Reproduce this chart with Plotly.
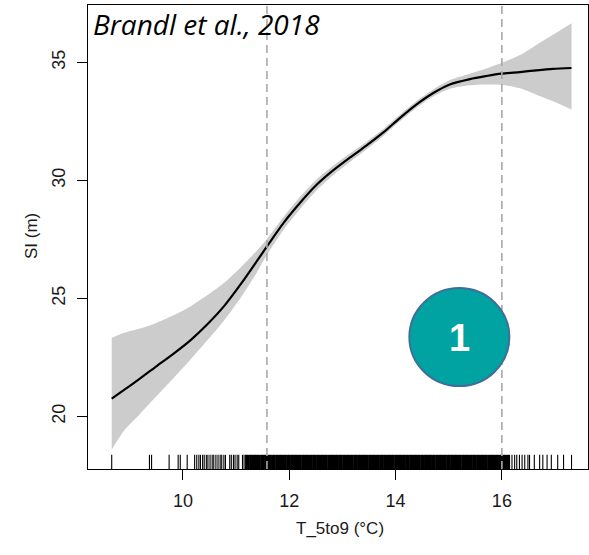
import plotly.graph_objects as go

# Smooth fit of site index against mean May-September temperature
temp = [8.66, 8.88, 9.19, 9.50, 9.82, 10.14, 10.45, 10.77, 11.08, 11.39, 11.58,
        11.89, 12.20, 12.51, 12.83, 13.14, 13.45, 13.77, 14.08, 14.39, 14.71,
        15.02, 15.40, 15.71, 15.99, 16.34, 16.65, 16.96, 17.31]
si_fit = [20.75, 21.10, 21.60, 22.12, 22.65, 23.22, 23.88, 24.66, 25.58, 26.58, 27.20,
          28.19, 29.04, 29.80, 30.43, 30.96, 31.47, 32.03, 32.64, 33.21, 33.70,
          34.06, 34.29, 34.42, 34.52, 34.59, 34.66, 34.72, 34.76]
si_upper = [23.32, 23.53, 23.72, 23.96, 24.28, 24.66, 25.12, 25.65, 26.30, 27.02, 27.52,
            28.45, 29.30, 30.03, 30.63, 31.14, 31.63, 32.18, 32.78, 33.35, 33.85,
            34.25, 34.52, 34.74, 34.97, 35.31, 35.74, 36.17, 36.66]
si_lower = [18.59, 19.36, 20.10, 20.85, 21.62, 22.40, 23.20, 24.05, 25.00, 26.10, 26.85,
            27.90, 28.78, 29.57, 30.23, 30.78, 31.31, 31.88, 32.50, 33.07, 33.55,
            33.88, 34.03, 34.06, 34.05, 33.90, 33.63, 33.35, 33.00]

# Observed plot temperatures (rug)
rug_sparse = [8.66, 9.37, 9.41, 9.74, 9.91, 9.95, 10.08, 10.22, 10.26, 10.30, 10.33,
              10.37, 10.40, 10.44, 10.47, 10.51, 10.55, 10.58, 10.62, 10.66, 10.70,
              10.73, 10.77, 10.80, 10.88, 10.91, 10.95, 10.98, 11.02, 11.05, 11.12,
              11.15, 11.18, 16.19, 16.24, 16.28, 16.33, 16.38, 16.43, 16.49, 16.52,
              16.61, 16.71, 16.77, 16.85, 16.93, 17.05, 17.16, 17.31]
rug_dense = [11.20, 11.23, 11.27, 11.30, 11.34, 11.37, 11.41, 11.44, 11.48, 11.51,
             11.55, 11.58, 11.62, 11.65, 11.69, 11.72, 11.76, 11.79, 11.83, 11.86,
             11.90, 11.93, 11.97, 12.00, 12.04, 12.07, 12.11, 12.14, 12.18, 12.21,
             12.25, 12.28, 12.32, 12.35, 12.39, 12.42, 12.46, 12.49, 12.53, 12.56,
             12.60, 12.63, 12.67, 12.70, 12.74, 12.77, 12.81, 12.84, 12.88, 12.91,
             12.95, 12.98, 13.02, 13.05, 13.09, 13.12, 13.16, 13.19, 13.23, 13.26,
             13.30, 13.33, 13.37, 13.40, 13.44, 13.47, 13.51, 13.54, 13.58, 13.61,
             13.65, 13.68, 13.72, 13.75, 13.79, 13.82, 13.86, 13.89, 13.93, 13.96,
             14.00, 14.03, 14.07, 14.10, 14.14, 14.17, 14.21, 14.24, 14.28, 14.31,
             14.35, 14.38, 14.42, 14.45, 14.49, 14.52, 14.56, 14.59, 14.63, 14.66,
             14.70, 14.73, 14.77, 14.80, 14.84, 14.87, 14.91, 14.94, 14.98, 15.01,
             15.05, 15.08, 15.12, 15.15, 15.19, 15.22, 15.26, 15.29, 15.33, 15.36,
             15.40, 15.43, 15.47, 15.50, 15.54, 15.57, 15.61, 15.64, 15.68, 15.71,
             15.75, 15.78, 15.82, 15.85, 15.89, 15.92, 15.96, 15.99, 16.03, 16.06,
             16.10, 16.13]

thresholds = [11.58, 16.0]
x_ticks = [10, 12, 14, 16]
y_ticks = [20, 25, 30, 35]

X_RANGE = [8.214, 17.62]
Y_RANGE = [17.77, 37.43]
RUG_H = 0.6

SANS = "Liberation Sans, Arial, sans-serif"
TICK_FONT = dict(family=SANS, size=18, color="#1a1a1a")


def rug_xy(values):
    xs, ys = [], []
    for v in values:
        xs += [v, v, None]
        ys += [Y_RANGE[0], Y_RANGE[0] + RUG_H, None]
    return xs, ys


fig = go.Figure()

# confidence band
fig.add_trace(go.Scatter(x=temp, y=si_upper, mode="lines",
                         line=dict(width=0, shape="spline", smoothing=0.8), hoverinfo="skip"))
fig.add_trace(go.Scatter(x=temp, y=si_lower, mode="lines",
                         line=dict(width=0, shape="spline", smoothing=0.8),
                         fill="tonexty", fillcolor="#cccccc", hoverinfo="skip"))
# fitted curve
fig.add_trace(go.Scatter(x=temp, y=si_fit, mode="lines",
                         line=dict(color="black", width=2.2, shape="spline", smoothing=0.8)))

# rug
rx, ry = rug_xy(rug_sparse)
fig.add_trace(go.Scatter(x=rx, y=ry, mode="lines", line=dict(color="black", width=1.1)))
rx, ry = rug_xy(rug_dense)
fig.add_trace(go.Scatter(x=rx, y=ry, mode="lines", line=dict(color="black", width=2.6)))

# temperature thresholds
for t in thresholds:
    fig.add_shape(type="line", x0=t, x1=t, xref="x", y0=0, y1=1, yref="paper",
                  line=dict(color="#a8a8a8", width=1.6, dash="8px,5px"))

# numbered marker
fig.add_shape(type="circle", xref="x", yref="y", xsizemode="pixel", ysizemode="pixel",
              xanchor=15.2, yanchor=23.36, x0=-50, x1=50, y0=-49, y1=49,
              fillcolor="#00a2a2", line=dict(color="#3f6e9a", width=2))
fig.add_annotation(x=15.2, y=23.3, xref="x", yref="y", text="<b>1</b>", showarrow=False,
                   font=dict(family=SANS, size=38, color="white"))

# source label
fig.add_annotation(x=0.006, y=(469.3 - 24) / 464.3, xref="paper", yref="paper",
                   xanchor="left", yanchor="middle", showarrow=False,
                   text="<i>Brandl et al., 2018</i>",
                   font=dict(family="Open Sans, sans-serif", size=28, color="black"))

# axis titles
fig.add_annotation(x=(20 - 88) / 500, y=(469.3 - 236.7) / 464.3, xref="paper", yref="paper",
                   text="SI (m)", textangle=-90, showarrow=False,
                   font=dict(family=SANS, size=17, color="#1a1a1a"))
fig.add_annotation(x=(340 - 88) / 500, y=(469.3 - 540) / 464.3, xref="paper", yref="paper",
                   text="T_5to9 (°C)", showarrow=False,
                   font=dict(family=SANS, size=17, color="#1a1a1a"))

fig.update_xaxes(range=X_RANGE, tickvals=x_ticks, ticks="outside", ticklen=10, tickwidth=1,
                 tickcolor="black", showline=True, linecolor="black", linewidth=1.3,
                 mirror=True, showgrid=False, zeroline=False, tickfont=TICK_FONT,
                 ticklabelstandoff=5)
fig.update_yaxes(range=Y_RANGE, tickvals=y_ticks, ticks="outside", ticklen=10, tickwidth=1,
                 tickcolor="black", showline=True, linecolor="black", linewidth=1.3,
                 mirror=True, showgrid=False, zeroline=False, tickfont=TICK_FONT,
                 tickangle=-90, ticklabelstandoff=5)

fig.update_layout(width=589, height=555, margin=dict(l=88, r=1, t=5, b=86),
                  plot_bgcolor="white", paper_bgcolor="white", showlegend=False)

fig.write_html("out.html")
